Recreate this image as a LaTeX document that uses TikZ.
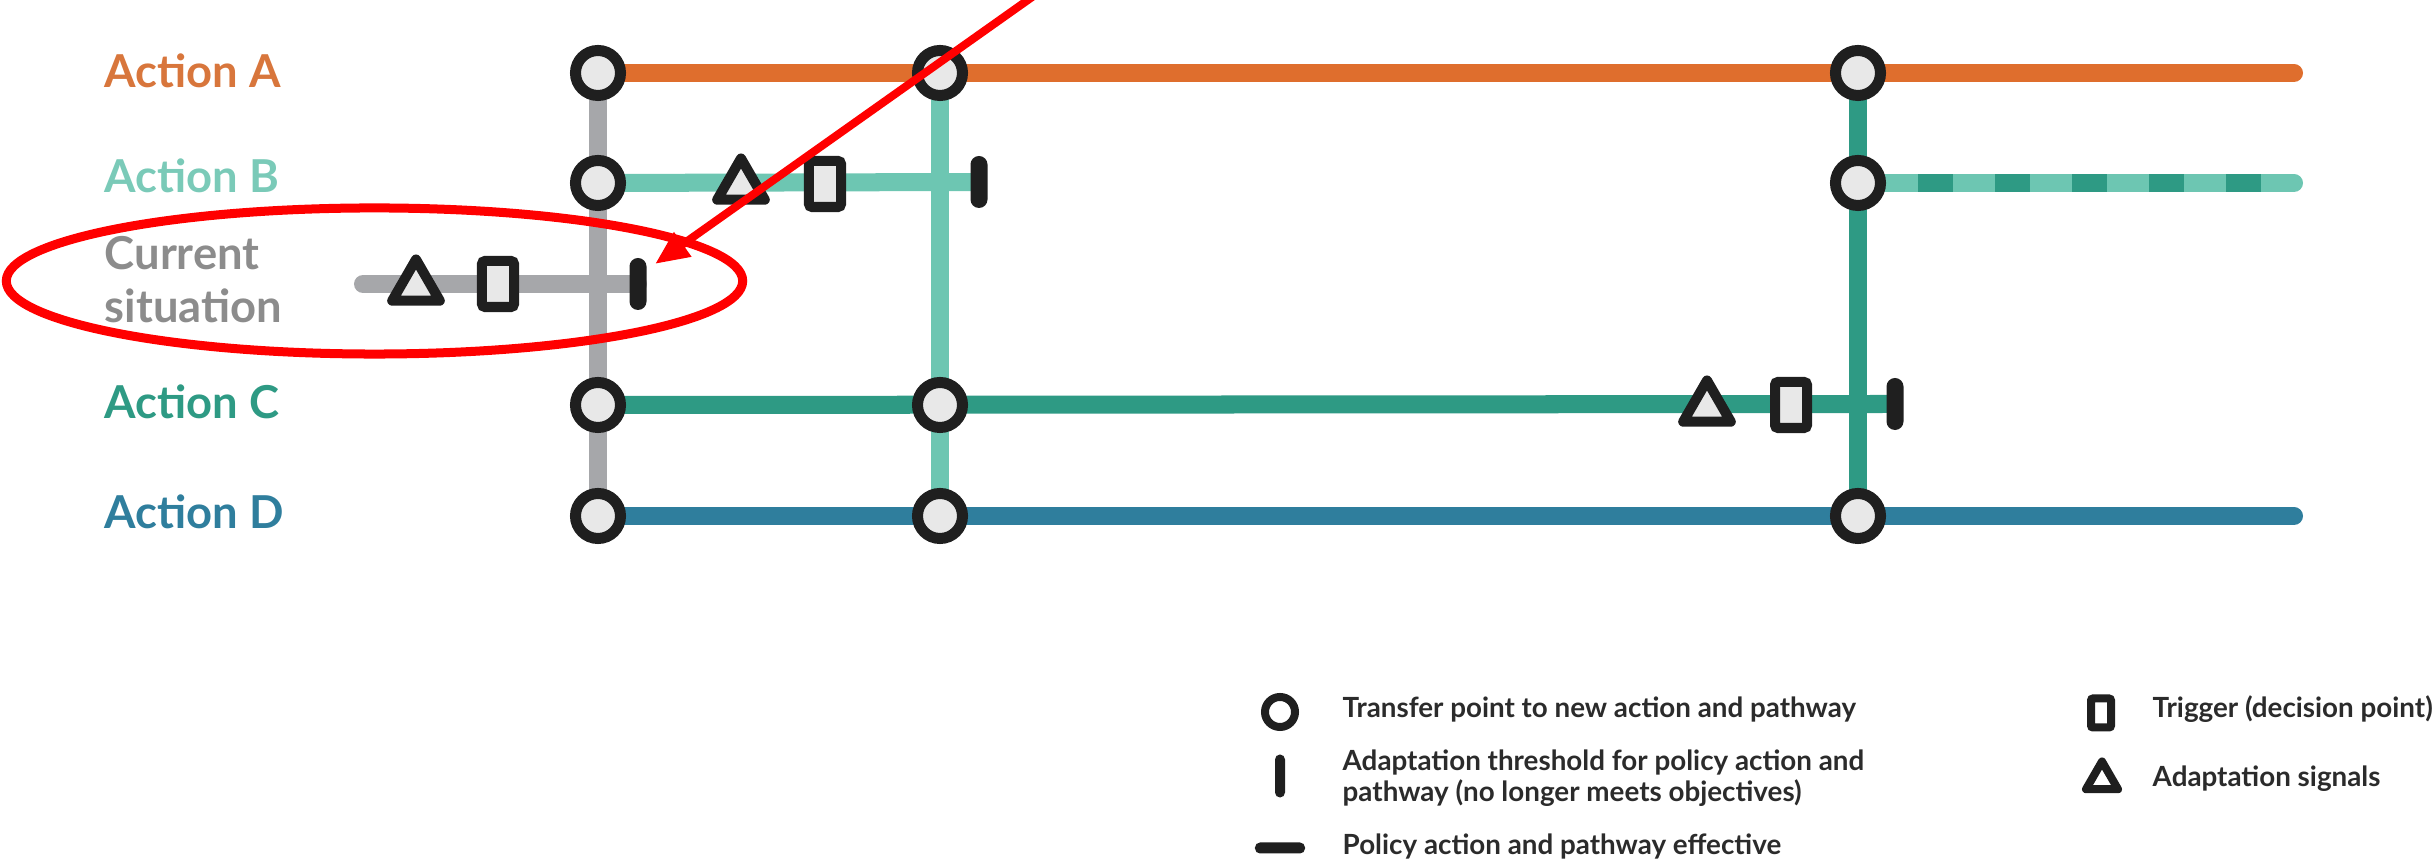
\documentclass[tikz,border=0pt]{standalone}
\usepackage{fontspec}
\setmainfont{Lato}
\usetikzlibrary{shapes.geometric,arrows.meta,backgrounds}
\definecolor{colA}{HTML}{DF6E2D}
\definecolor{colB}{HTML}{6DC6B2}
\definecolor{colC}{HTML}{2E9A84}
\definecolor{colD}{HTML}{2F7E9D}
\definecolor{colS}{HTML}{A6A7AA}
\definecolor{lblA}{HTML}{D8763C}
\definecolor{lblB}{HTML}{7ACAB8}
\definecolor{lblS}{HTML}{8C8C8C}
\definecolor{ink}{HTML}{1F1F1F}
\definecolor{fillg}{HTML}{E8E8E8}
\definecolor{legink}{HTML}{2B2B2B}
\begin{document}
\begin{tikzpicture}[x=0.01cm,y=-0.01cm,
  ln/.style={line width=0.18cm},
  tp/.style={circle, draw=ink, fill=fillg, line width=0.11cm, minimum size=0.45cm, inner sep=0pt, outer sep=0pt},
  thr/.style={rectangle, fill=ink, minimum width=0.17cm, minimum height=0.52cm, rounded corners=0.085cm, inner sep=0pt, outer sep=0pt},
  trig/.style={rectangle, draw=ink, fill=fillg, line width=0.1cm, minimum width=0.32cm, minimum height=0.46cm, rounded corners=0.03cm, inner sep=0pt, outer sep=0pt},
  sig/.style={regular polygon, regular polygon sides=3, draw=ink, fill=fillg, line width=0.1cm, line join=round, minimum size=0.55cm, inner sep=0pt, outer sep=0pt},
  lbl/.style={anchor=base west, inner sep=0pt, align=left, font=\fontsize{12.9pt}{15.1pt}\selectfont\bfseries},
  leg/.style={anchor=base west, inner sep=0pt, align=left, text=legink, font=\fontsize{7.9pt}{8.82pt}\selectfont\bfseries}
]
\useasboundingbox (0,0) rectangle (2435,862);

% labels
\node[lbl, text=lblA] (labA) at (104,88) {Action A};
\node[lbl, text=lblB] (labB) at (104,193) {Action B};
\node[lbl, text=lblS] (labS) at (104,323) {Current\\situation};
\node[lbl, text=colC] (labC) at (104,419) {Action C};
\node[lbl, text=colD] (labD) at (104,529) {Action D};

% transfer points
\node[tp] (a1) at (598,73) {};
\node[tp] (a2) at (940,73) {};
\node[tp] (a3) at (1858,73) {};
\node[tp] (b1) at (598,183) {};
\node[tp] (b3) at (1858,183) {};
\node[tp] (c1) at (598,405) {};
\node[tp] (c2) at (940,405) {};
\node[tp] (d1) at (598,516) {};
\node[tp] (d2) at (940,516) {};
\node[tp] (d3) at (1858,516) {};

% signals, triggers, thresholds
\node[sig] (sS) at (416,287) {};
\node[trig] (tS) at (498,284) {};
\node[thr] (hS) at (638,284) {};
\node[sig] (sB) at (741,186) {};
\node[trig] (tB) at (825,184) {};
\node[thr] (hB) at (979,182) {};
\node[sig] (sC) at (1707,408) {};
\node[trig] (tC) at (1791,405) {};
\node[thr] (hC) at (1895,404) {};

% free ends
\coordinate (sStart) at (363,284);
\coordinate (aEnd) at (2294,73);
\coordinate (bEnd) at (2294,183);
\coordinate (dEnd) at (2294,516);
\coordinate (bd0) at (1918,183);
\coordinate (bd1) at (2263,183);

\begin{pgfonlayer}{background}
  \draw[ln, colS] (a1.center) -- (d1.center);
  \draw[ln, colB] (a2.center) -- (d2.center);
  \draw[ln, colC] (a3.center) -- (d3.center);
  \draw[ln, colA, line cap=round] (a1.center) -- (aEnd);
  \draw[ln, colB] (b1.center) -- (hB.center);
  \draw[ln, colB, line cap=round] (b3.center) -- (bEnd);
  \draw[ln, colC, dash pattern=on 0.35cm off 0.42cm] (bd0) -- (bd1);
  \draw[ln, colS, line cap=round] (sStart) -- (hS.center);
  \draw[ln, colC] (c1.center) -- (hC.center);
  \draw[ln, colD, line cap=round] (d1.center) -- (dEnd);
\end{pgfonlayer}

% legend
\node[tp, fill=white, minimum size=0.30cm, line width=0.08cm] (lgTP) at (1280,712) {};
\node[thr, minimum width=0.10cm, minimum height=0.43cm, rounded corners=0.05cm] (lgTH) at (1280,776) {};
\node[thr, minimum width=0.50cm, minimum height=0.11cm, rounded corners=0.05cm] (lgEF) at (1280,848) {};
\node[trig, fill=white, minimum width=0.20cm, minimum height=0.29cm, line width=0.08cm, rounded corners=0.02cm] (lgTR) at (2101,713) {};
\node[sig, fill=white, minimum size=0.37cm, line width=0.08cm] (lgSG) at (2102,780) {};
\node[leg] (ltTP) at (1342,718) {Transfer point to new action and pathway};
\node[leg] (ltTH) at (1342,802) {Adaptation threshold for policy action and\\pathway (no longer meets objectives)};
\node[leg] (ltEF) at (1342,855) {Policy action and pathway effective};
\node[leg] (ltTR) at (2152,718) {Trigger (decision point)};
\node[leg] (ltSG) at (2152,787) {Adaptation signals};

% red annotation
\node[ellipse, draw=red, line width=0.09cm, minimum width=7.36cm, minimum height=1.46cm, inner sep=0pt] (hl) at (374.5,281) {};
\coordinate (arS) at (1035,-5);
\coordinate (arT) at (655,264);
\draw[red, line width=0.08cm, -{Triangle[length=0.34cm,width=0.28cm]}] (arS) -- (arT);
\end{tikzpicture}
\end{document}
